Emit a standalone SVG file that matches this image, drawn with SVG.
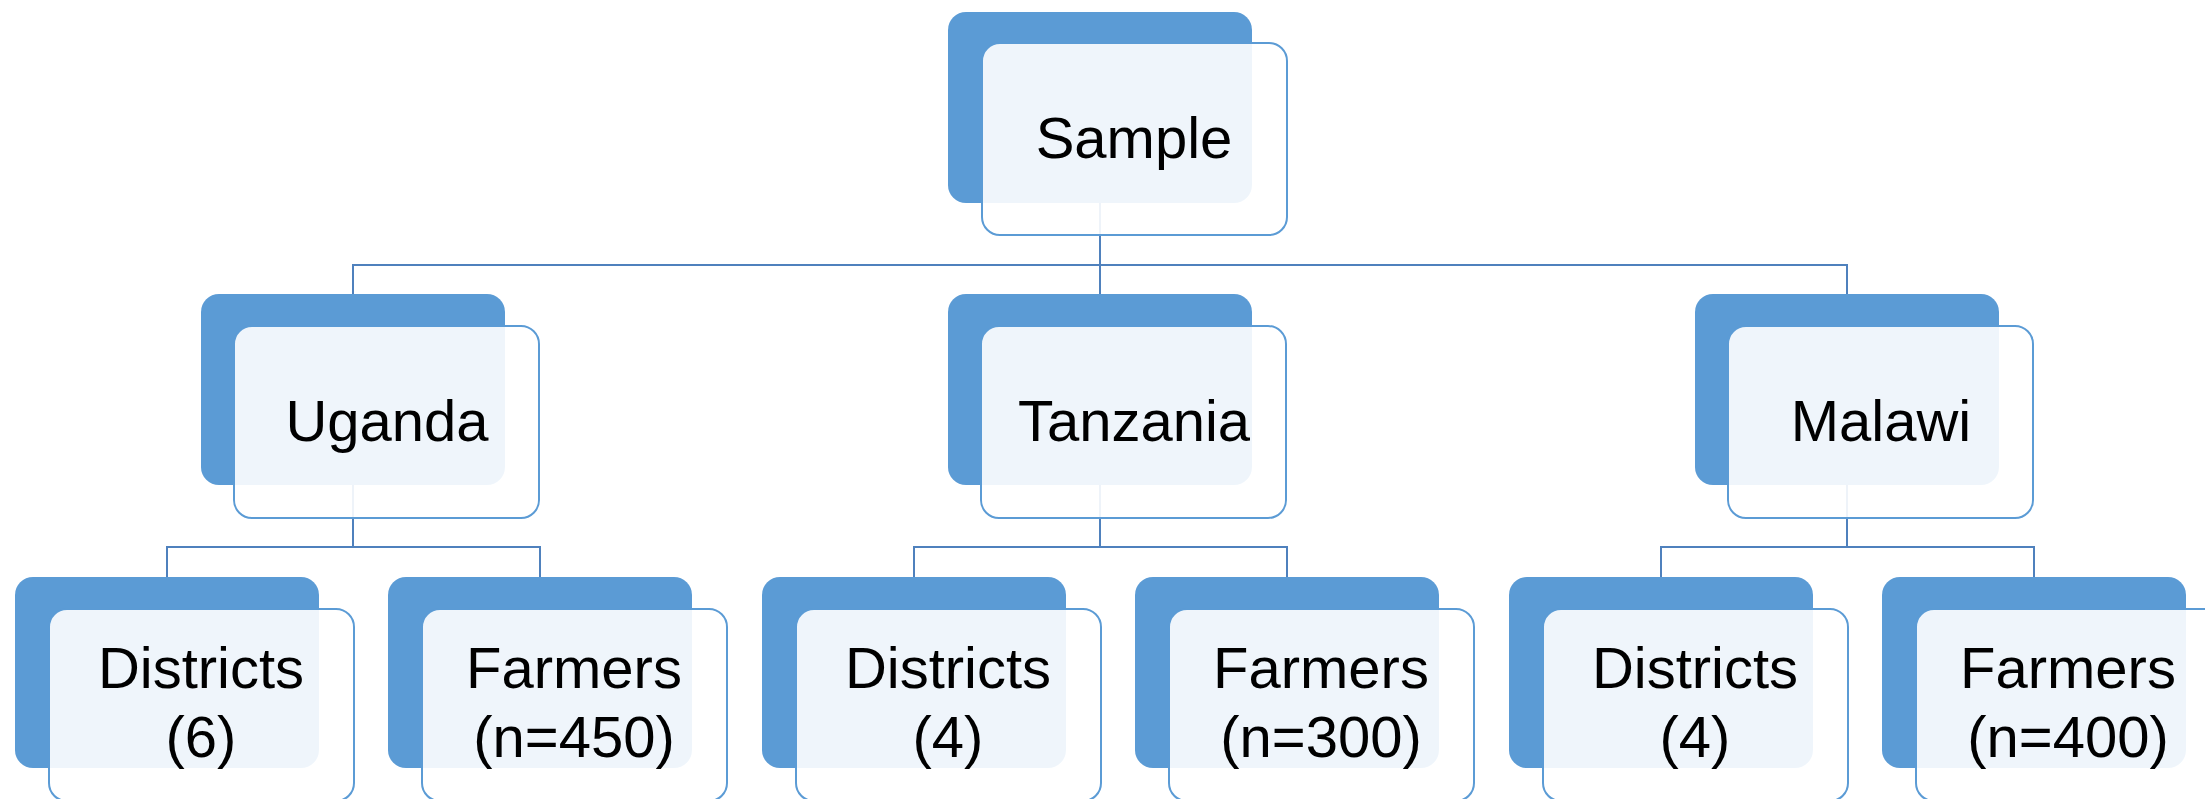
<svg xmlns="http://www.w3.org/2000/svg" width="2205" height="799" viewBox="0 0 2205 799">
<style>
.bk{fill:#5B9BD5}
.fr{fill:#FFFFFF;fill-opacity:0.9;stroke:#5B9BD5;stroke-width:2}
.t{font-family:"Liberation Sans",Arial,sans-serif;font-size:58px;fill:#000000;text-anchor:middle}
.c{fill:none;stroke:#4F81BD;stroke-width:2}
</style>
<rect width="2205" height="799" fill="#FFFFFF"/>
<g id="connectors">
<path class="c" d="M1100,202 V294 M353,294 V265 H1847 V294"/>
<path class="c" d="M353,485 V547 M167,577 V547 H540 V577"/>
<path class="c" d="M1100,485 V547 M914,577 V547 H1287 V577"/>
<path class="c" d="M1847,485 V547 M1661,577 V547 H2034 V577"/>
</g>
<g id="sample">
<rect class="bk" x="948" y="12" width="304" height="191" rx="18"/>
<rect class="fr" x="982" y="43" width="305" height="192" rx="18"/>
<text class="t" x="1134" y="158">Sample</text>
</g>
<g id="uganda">
<rect class="bk" x="201" y="294" width="304" height="191" rx="18"/>
<rect class="fr" x="234" y="326" width="305" height="192" rx="18"/>
<text class="t" x="387" y="441">Uganda</text>
</g>
<g id="tanzania">
<rect class="bk" x="948" y="294" width="304" height="191" rx="18"/>
<rect class="fr" x="981" y="326" width="305" height="192" rx="18"/>
<text class="t" x="1134" y="441">Tanzania</text>
</g>
<g id="malawi">
<rect class="bk" x="1695" y="294" width="304" height="191" rx="18"/>
<rect class="fr" x="1728" y="326" width="305" height="192" rx="18"/>
<text class="t" x="1881" y="441">Malawi</text>
</g>
<g id="uganda-districts">
<rect class="bk" x="15" y="577" width="304" height="191" rx="18"/>
<rect class="fr" x="49" y="609" width="305" height="192" rx="18"/>
<text class="t" x="201" y="688">Districts</text>
<text class="t" x="201" y="757">(6)</text>
</g>
<g id="uganda-farmers">
<rect class="bk" x="388" y="577" width="304" height="191" rx="18"/>
<rect class="fr" x="422" y="609" width="305" height="192" rx="18"/>
<text class="t" x="574" y="688">Farmers</text>
<text class="t" x="574" y="757">(n=450)</text>
</g>
<g id="tanzania-districts">
<rect class="bk" x="762" y="577" width="304" height="191" rx="18"/>
<rect class="fr" x="796" y="609" width="305" height="192" rx="18"/>
<text class="t" x="948" y="688">Districts</text>
<text class="t" x="948" y="757">(4)</text>
</g>
<g id="tanzania-farmers">
<rect class="bk" x="1135" y="577" width="304" height="191" rx="18"/>
<rect class="fr" x="1169" y="609" width="305" height="192" rx="18"/>
<text class="t" x="1321" y="688">Farmers</text>
<text class="t" x="1321" y="757">(n=300)</text>
</g>
<g id="malawi-districts">
<rect class="bk" x="1509" y="577" width="304" height="191" rx="18"/>
<rect class="fr" x="1543" y="609" width="305" height="192" rx="18"/>
<text class="t" x="1695" y="688">Districts</text>
<text class="t" x="1695" y="757">(4)</text>
</g>
<g id="malawi-farmers">
<rect class="bk" x="1882" y="577" width="304" height="191" rx="18"/>
<rect class="fr" x="1916" y="609" width="305" height="192" rx="18"/>
<text class="t" x="2068" y="688">Farmers</text>
<text class="t" x="2068" y="757">(n=400)</text>
</g>
</svg>
